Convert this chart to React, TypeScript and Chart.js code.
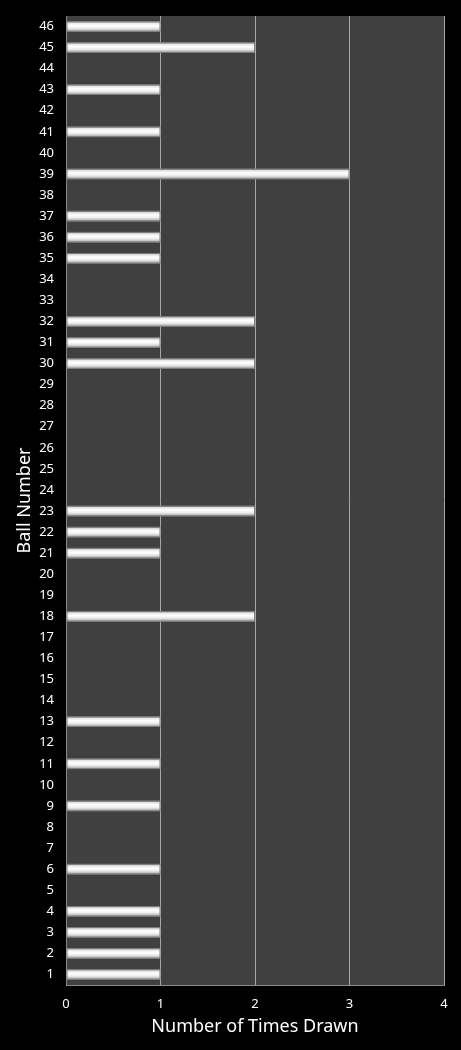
import { useEffect, useRef } from 'react';
import { Chart, registerables } from 'chart.js';

Chart.register(...registerables);

// Ball numbers 1..46 and how often each was drawn
const balls = Array.from({ length: 46 }, (_, i) => String(i + 1));
const timesDrawn = [
  1, 1, 1, 1, 0, 1, 0, 0, 1, 0, // 1-10
  1, 0, 1, 0, 0, 0, 0, 2, 0, 0, // 11-20
  1, 1, 2, 0, 0, 0, 0, 0, 0, 2, // 21-30
  1, 2, 0, 0, 1, 1, 1, 0, 3, 0, // 31-40
  1, 0, 1, 0, 2, 1, // 41-46
];
const xTicks = [0, 1, 2, 3, 4];

const FONT = '"Noto Sans", "Open Sans", sans-serif';

// dark plot background
const plotBackground = {
  id: 'plotBackground',
  beforeDraw(chart: Chart) {
    const { ctx, chartArea } = chart;
    if (!chartArea) return;
    ctx.save();
    ctx.fillStyle = '#404040';
    ctx.fillRect(chartArea.left, chartArea.top, chartArea.right - chartArea.left, chartArea.bottom - chartArea.top);
    ctx.restore();
  },
};

// cylinder-like shading on each bar
const shadedBars = {
  id: 'shadedBars',
  afterDatasetsDraw(chart: Chart) {
    const { ctx } = chart;
    const meta = chart.getDatasetMeta(0);
    ctx.save();
    meta.data.forEach((el: any) => {
      const { x, y, base, height } = el.getProps(['x', 'y', 'base', 'height'], true);
      if (Math.abs(x - base) < 1) return;
      const top = y - height / 2;
      const g = ctx.createLinearGradient(0, top, 0, top + height);
      g.addColorStop(0, '#8c8c8c');
      g.addColorStop(0.18, '#e4e4e4');
      g.addColorStop(0.4, '#ffffff');
      g.addColorStop(0.65, '#eeeeee');
      g.addColorStop(1, '#9a9a9a');
      ctx.fillStyle = g;
      ctx.fillRect(base, top, x - base, height);
      ctx.strokeStyle = '#7a7a7a';
      ctx.lineWidth = 1;
      ctx.strokeRect(base + 0.5, top + 0.5, x - base - 1, height - 1);
    });
    ctx.restore();
  },
};

export default function App() {
  const chartRef = useRef<HTMLCanvasElement>(null);

  useEffect(() => {
    document.body.style.margin = '0';
    document.body.style.background = '#000';
    if (!chartRef.current) return;

    const chart = new Chart(chartRef.current, {
      type: 'bar',
      data: {
        labels: balls,
        datasets: [
          {
            label: 'Times Drawn',
            data: timesDrawn,
            backgroundColor: 'rgba(0,0,0,0)',
            categoryPercentage: 1,
            barPercentage: 0.5,
          },
        ],
      },
      options: {
        indexAxis: 'y',
        animation: false,
        responsive: true,
        maintainAspectRatio: false,
        layout: { padding: { top: 16, right: 17, left: 0, bottom: 0 } },
        plugins: {
          legend: { display: false },
          tooltip: { enabled: false },
        },
        scales: {
          x: {
            min: 0,
            max: 4,
            afterBuildTicks: (axis: any) => {
              axis.ticks = xTicks.map((v) => ({ value: v }));
            },
            afterFit: (axis: any) => {
              axis.height = 65;
            },
            grid: { color: '#a6a6a6', lineWidth: 1, drawTicks: false },
            border: { color: '#8a8a8a' },
            ticks: { color: '#ffffff', padding: 11, font: { family: FONT, size: 13 } },
            title: {
              display: true,
              text: 'Number of Times Drawn',
              color: '#ffffff',
              padding: { top: 2, bottom: 12 },
              font: { family: FONT, size: 18 },
            },
          },
          y: {
            reverse: true,
            afterFit: (axis: any) => {
              axis.width = 66;
              axis.paddingTop = 0;
              axis.paddingBottom = 0;
            },
            grid: { display: false, drawTicks: false },
            border: { color: '#8a8a8a' },
            ticks: { color: '#ffffff', padding: 12, autoSkip: false, font: { family: FONT, size: 13 } },
            title: {
              display: true,
              text: 'Ball Number',
              color: '#ffffff',
              padding: { top: 14, bottom: 0 },
              font: { family: FONT, size: 18 },
            },
          },
        },
      },
      plugins: [plotBackground, shadedBars],
    });

    return () => chart.destroy();
  }, []);

  return (
    <div style={{ width: 461, height: 1050, background: '#000', position: 'relative' }}>
      <canvas ref={chartRef} />
    </div>
  );
}
